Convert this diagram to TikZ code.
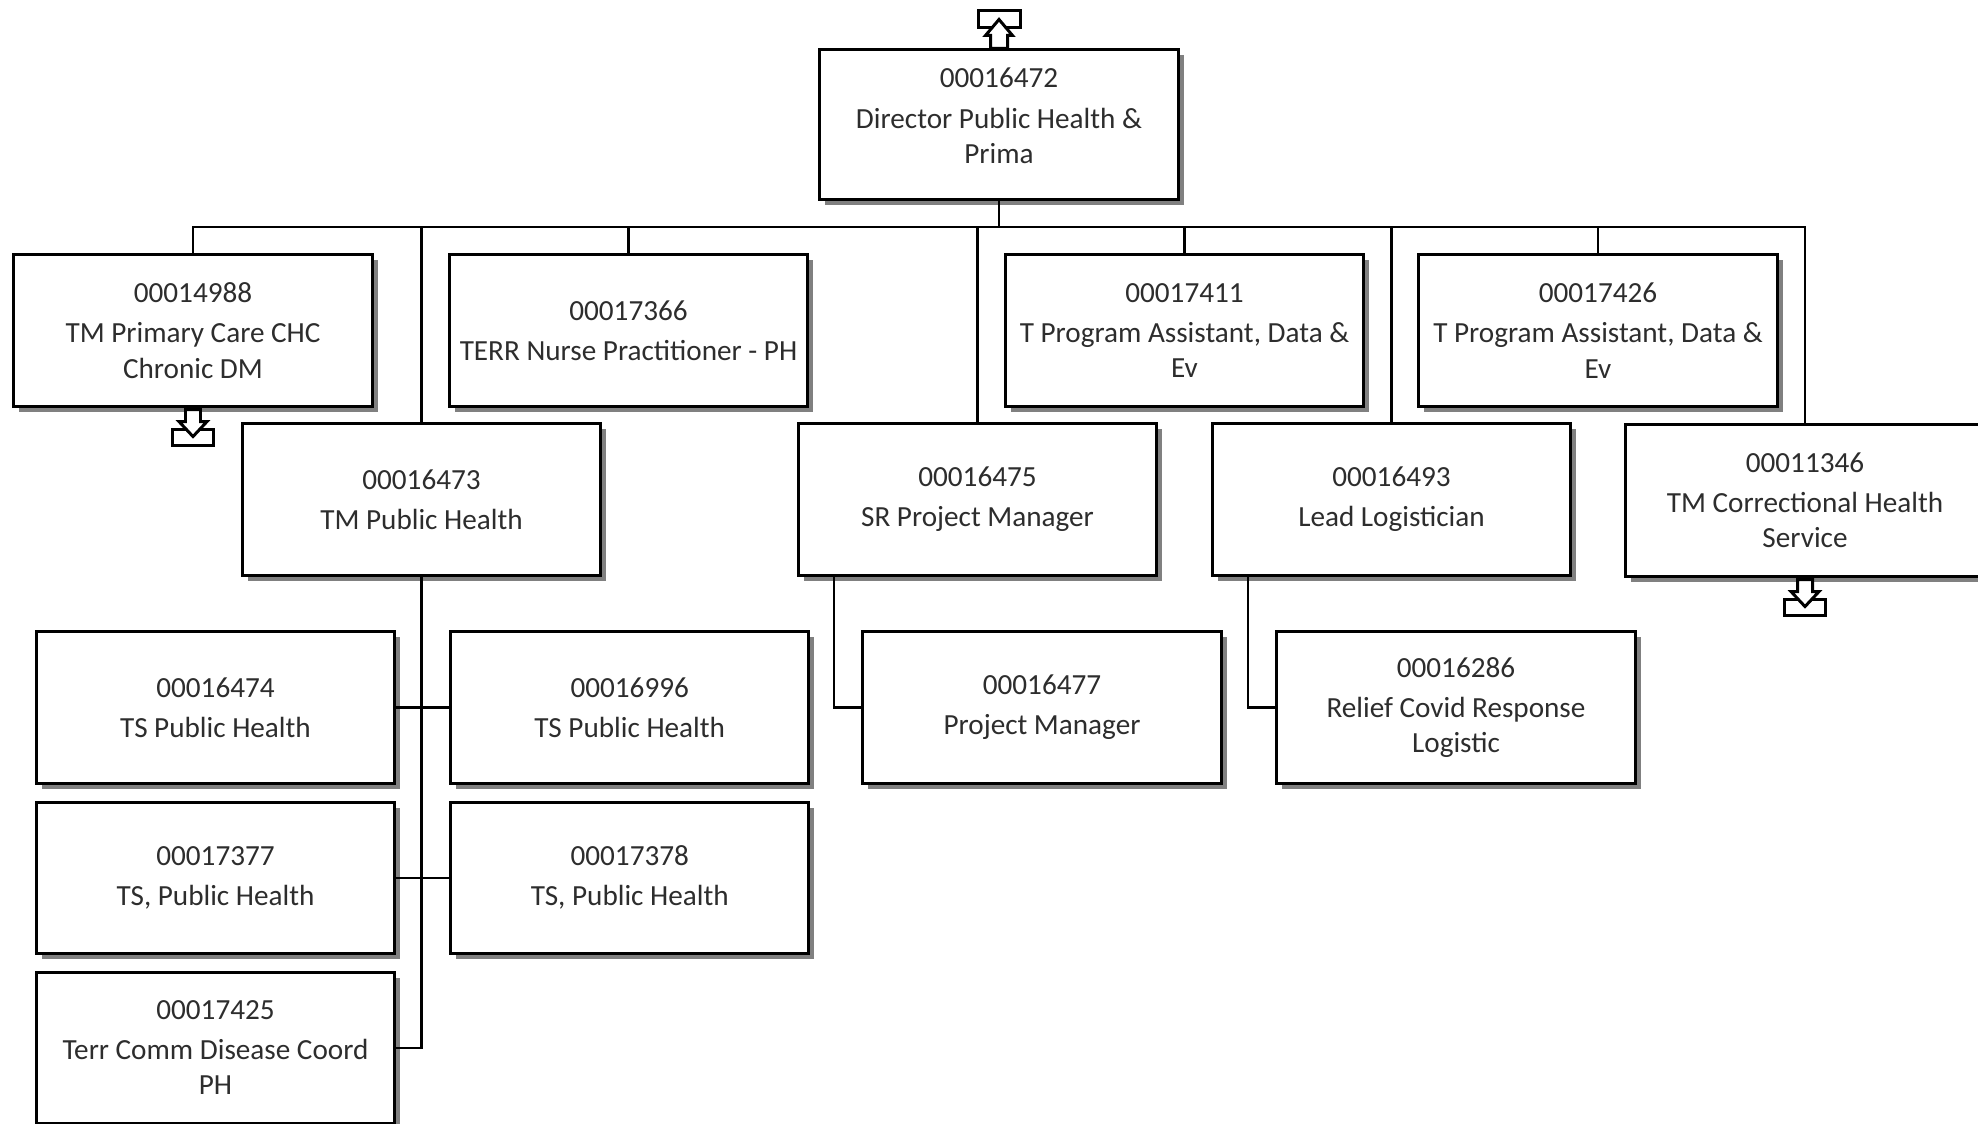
\documentclass[tikz,border=0pt]{standalone}
\usepackage{fontspec}
\setmainfont{Carlito}
\usetikzlibrary{positioning,shadows}
\definecolor{ShadowGrey}{RGB}{128,128,128}
\definecolor{InkGrey}{RGB}{45,45,45}
\tikzset{
  link/.style={line width=0.6pt,draw=black},
  posbox/.style={draw=black,fill=white,line width=0.85pt,
    minimum width=3.58cm,minimum height=1.51cm,align=center,inner sep=1pt,
    text=InkGrey,font=\fontsize{8.3}{10}\selectfont,
    drop shadow={shadow xshift=0.055cm,shadow yshift=-0.055cm,
      fill=ShadowGrey,opacity=1}},
  trayline/.style={line width=0.85pt,draw=black,fill=white},
  movedown/.pic={
    \path[trayline] (-20.5,22) rectangle (20.5,38);
    \path[trayline] (-7.5,2) -- (-7.5,14) -- (-14,14) -- (0,29)
      -- (14,14) -- (7.5,14) -- (7.5,2) -- cycle;
  },
  moveup/.pic={
    \path[trayline] (-21,-21) rectangle (21,-38);
    \path[trayline] (-8.5,0) -- (-8.5,-13) -- (-13.5,-13) -- (0,-29)
      -- (13.5,-13) -- (8.5,-13) -- (8.5,0) -- cycle;
  }
}

\begin{document}
\begin{tikzpicture}[x=0.01cm,y=-0.01cm]
  \useasboundingbox (0,0) rectangle (1978,1123);
  % top level
  \node[posbox,minimum height=1.49cm] (p16472) at (999,124.5)
    {\begin{tabular}{@{}c@{}}00016472\\[1.4pt]Director Public Health \&\\Prima\\[0.12cm]\end{tabular}};
  % first row
  \node[posbox] (p14988) at (193,330.5)
    {00014988\\[1.4pt]TM Primary Care CHC\\Chronic DM};
  \node[posbox] (p17366) at (628.5,330.5)
    {00017366\\[1.4pt]TERR Nurse Practitioner - PH};
  \node[posbox] (p17411) at (1184.5,330.5)
    {00017411\\[1.4pt]T Program Assistant, Data \&\\Ev};
  \node[posbox] (p17426) at (1598,330.5)
    {00017426\\[1.4pt]T Program Assistant, Data \&\\Ev};
  % second row
  \node[posbox] (p16473) at (421.5,499.5)
    {00016473\\[1.4pt]TM Public Health};
  \node[posbox] (p16475) at (977.5,499.5)
    {00016475\\[1.4pt]SR Project Manager};
  \node[posbox] (p16493) at (1391.5,499.5)
    {00016493\\[1.4pt]Lead Logistician};
  \node[posbox] (p11346) at (1805,500.5)
    {00011346\\[1.4pt]TM Correctional Health\\Service};
  % public health team
  \node[posbox] (p16474) at (215.5,707.5)
    {00016474\\[1.4pt]TS Public Health};
  \node[posbox,right=0.53cm of p16474] (p16996)
    {00016996\\[1.4pt]TS Public Health};
  \node[posbox,below=0.16cm of p16474] (p17377)
    {00017377\\[1.4pt]TS, Public Health};
  \node[posbox,below=0.16cm of p16996] (p17378)
    {00017378\\[1.4pt]TS, Public Health};
  \node[posbox,below=0.16cm of p17377] (p17425)
    {00017425\\[1.4pt]Terr Comm Disease Coord\\PH};
  % project and logistics
  \node[posbox] (p16477) at (1042,707.5)
    {00016477\\[1.4pt]Project Manager};
  \node[posbox] (p16286) at (1456,707.5)
    {00016286\\[1.4pt]Relief Covid Response\\Logistic};

  \coordinate (bus) at (999,227);
  \draw[link] (p16472.south) -- (bus);
  \foreach \kid in {p14988,p17366,p16473,p16475,p17411,p16493,p17426,p11346}
    \draw[link] (bus) -| (\kid.north);
  \foreach \kid in {p16474,p17377,p17425}
    \draw[link] (p16473.south) |- (\kid.east);
  \foreach \kid in {p16996,p17378}
    \draw[link] (p16473.south) |- (\kid.west);
  \draw[link] ([xshift=3.7mm]p16475.south west) |- (p16477.west);
  \draw[link] ([xshift=3.7mm]p16493.south west) |- (p16286.west);

  \pic at (p16472.north) {moveup};
  \pic at (p14988.south) {movedown};
  \pic at (p11346.south) {movedown};
\end{tikzpicture}
\end{document}
